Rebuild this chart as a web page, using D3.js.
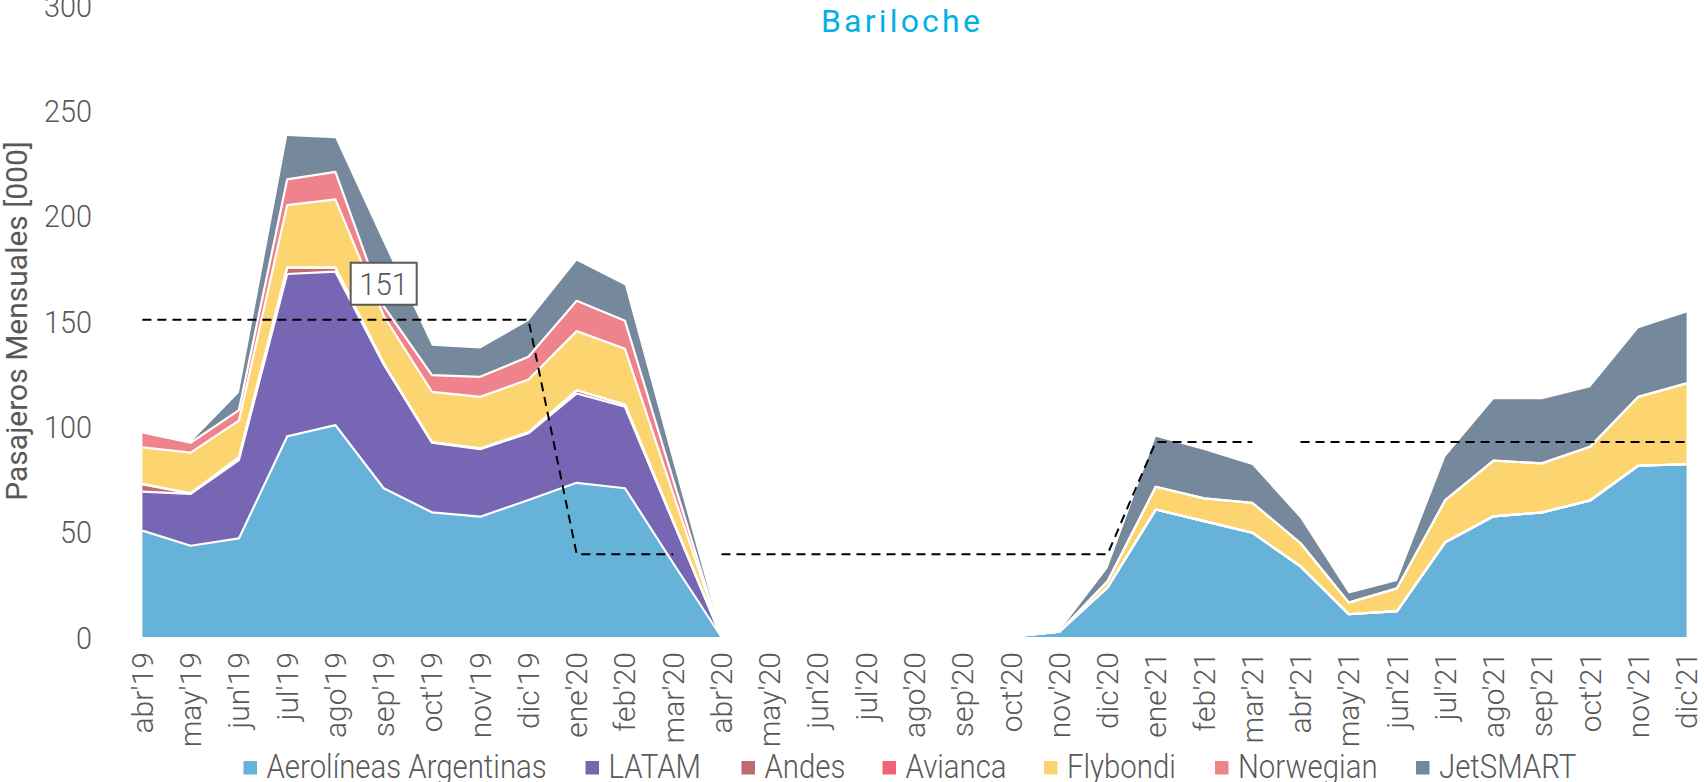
<!DOCTYPE html>
<html>
<head>
<meta charset="utf-8">
<script src="https://cdn.jsdelivr.net/npm/d3@7"></script>
<style>
  html, body { margin: 0; padding: 0; background: #fff; }
  svg { display: block; font-family: Roboto, "Noto Sans", sans-serif; }
</style>
</head>
<body>
<svg id="chart" width="1704" height="782"></svg>
<script>
const months = ["abr'19","may'19","jun'19","jul'19","ago'19","sep'19","oct'19","nov'19","dic'19","ene'20","feb'20","mar'20",
  "abr'20","may'20","jun'20","jul'20","ago'20","sep'20","oct'20","nov'20","dic'20","ene'21","feb'21","mar'21",
  "abr'21","may'21","jun'21","jul'21","ago'21","sep'21","oct'21","nov'21","dic'21"];

const seriesNames = ["Aerolíneas Argentinas","LATAM","Andes","Avianca","Flybondi","Norwegian","JetSMART"];

const aerolineas = [50.5,43.3,46.8,95.2,100.6,70.6,59.2,57.1,65.0,73.2,70.6,35.0, 0,0,0,0,0,0, 0.2,2.5,23.5,60.5,55.0,49.5,33.5,10.8,12.3,45.0,57.3,59.1,64.8,81.3,82.0];
const latam      = [18.5,24.6,37.2,77.1,72.8,58.8,33.0,32.1,31.7,42.4,38.7,19.5, 0,0,0,0,0,0, 0,0,0,0,0,0,0,0,0,0,0,0,0,0,0];
const andes      = [3.6,0.3,1.3,3.0,1.9,0.5,0.3,0.3,0.5,1.5,1.0,0.5, 0,0,0,0,0,0, 0,0,0,0,0,0,0,0,0,0,0,0,0,0,0];
const avianca    = [0,0,0,0,0,0,0,0,0,0,0,0, 0,0,0,0,0,0, 0,0,0,0,0,0,0,0,0,0,0,0,0,0,0];
const flybondi   = [17.4,19.3,17.4,29.7,32.4,22.6,23.9,24.5,25.0,28.1,26.5,13.0, 0,0,0,0,0,0, 0,0,2.9,10.8,10.8,14.2,11.0,5.5,10.8,20.0,26.4,23.3,25.5,32.7,38.4];
const norwegian  = [7.1,4.7,5.0,12.2,13.1,4.6,7.9,9.5,10.8,14.4,13.3,6.5, 0,0,0,0,0,0, 0,0,0,0,0,0,0,0,0,0,0,0,0,0,0];
const jetsmart   = [0,0.3,8.3,20.6,15.9,30.0,14.0,13.5,17.0,19.0,16.9,8.5, 0,0,0,0,0,0, 0,0.2,6.2,23.8,23.0,17.9,11.8,4.4,3.5,20.6,29.1,30.4,28.2,32.5,33.6];

// dashed reference line: groups of consecutive months (start index + values)
const refStarts = [0, 12, 24];
const refValues = [
  [150.6,150.6,150.6,150.6,150.6,150.6,150.6,150.6,150.6,39.3,39.3,39.3],
  [39.3,39.3,39.3,39.3,39.3,39.3,39.3,39.3,39.3,92.6,92.6,92.6],
  [92.6,92.6,92.6,92.6,92.6,92.6,92.6,92.6,92.6]
];
const labelMonth = "sep'19";
const labelValue = 150.6;

const yTicks = [0,50,100,150,200,250,300];
const title = "Bariloche";
const yTitle = "Pasajeros Mensuales [000]";

const colors = ["#66b2d9","#7766b4","#c26a6e","#ef6475","#fdd570","#ef838b","#76889b"];
const legendX = [243.5, 585.5, 741.5, 882.5, 1044, 1215, 1416];

// ---------- build ----------
const svg = d3.select("#chart");
const x = d3.scalePoint().domain(months).range([142.4, 1686.6]);
const y = d3.scaleLinear().domain([0, 300]).range([637, 5]);

const allSeries = [aerolineas, latam, andes, avianca, flybondi, norwegian, jetsmart];
const table = months.map((m, i) => {
  const row = { month: m };
  seriesNames.forEach((s, k) => row[s] = allSeries[k][i]);
  return row;
});
const stacked = d3.stack().keys(seriesNames)(table);

const area = d3.area()
  .x(d => x(d.data.month))
  .y0(d => y(d[0]))
  .y1(d => y(d[1]));
const topLine = d3.line()
  .x(d => x(d.data.month))
  .y(d => y(d[1]));

const g = svg.append("g");
g.selectAll("path.area").data(stacked).join("path")
  .attr("class", "area")
  .attr("d", area)
  .attr("fill", (d, i) => colors[i]);

g.selectAll("path.edge").data(stacked.slice(0, 6)).join("path")
  .attr("class", "edge")
  .attr("d", topLine)
  .attr("fill", "none")
  .attr("stroke", "#fff")
  .attr("stroke-width", 2.2)
  .attr("stroke-linejoin", "round");

// dashed reference line
const refLine = d3.line().x(d => x(d.m)).y(d => y(d.v));
refValues.forEach((vals, gi) => {
  const pts = vals.map((v, j) => ({ m: months[refStarts[gi] + j], v }));
  svg.append("path")
    .attr("d", refLine(pts))
    .attr("fill", "none")
    .attr("stroke", "#000")
    .attr("stroke-width", 2)
    .attr("stroke-dasharray", "9,6");
});

// value label box
const lx = x(labelMonth), ly = y(labelValue) - 36;
const lg = svg.append("g").attr("transform", `translate(${lx},${ly})`);
lg.append("rect").attr("x", -33).attr("y", -21).attr("width", 66).attr("height", 42)
  .attr("fill", "#fff").attr("stroke", "#595959").attr("stroke-width", 2);
lg.append("text").text(d3.format(".0f")(labelValue))
  .attr("text-anchor", "middle").attr("dy", "0.36em")
  .attr("transform", "scale(0.92,1)")
  .attr("font-size", 32).attr("font-weight", 300).attr("fill", "#595959");

// y axis tick labels
svg.append("g").selectAll("text").data(yTicks).join("text")
  .attr("transform", d => `translate(92,${y(d)}) scale(0.9,1)`)
  .attr("dy", "0.36em")
  .attr("text-anchor", "end")
  .attr("font-size", 32).attr("font-weight", 300).attr("fill", "#595959")
  .text(d => d);

// y title
svg.append("text")
  .attr("transform", `translate(27,${(y(0)+y(300))/2}) rotate(-90)`)
  .attr("text-anchor", "middle")
  .attr("font-size", 30).attr("fill", "#595959")
  .text(yTitle);

// x tick labels
svg.append("g").selectAll("text").data(months).join("text")
  .attr("transform", d => `translate(${x(d)},652) rotate(-90)`)
  .attr("text-anchor", "end").attr("dy", "0.35em")
  .attr("font-size", 30).attr("font-weight", 300).attr("fill", "#595959")
  .text(d => d);

// title
svg.append("text")
  .attr("x", 902).attr("y", 32)
  .attr("text-anchor", "middle")
  .attr("font-size", 32).attr("letter-spacing", 3.2)
  .attr("fill", "#00b0e6")
  .text(title);

// legend
const leg = svg.append("g");
seriesNames.forEach((s, i) => {
  const cx = legendX[i];
  leg.append("rect").attr("x", cx).attr("y", 761).attr("width", 13.5).attr("height", 13.5).attr("fill", colors[i]);
  leg.append("text")
    .attr("transform", `translate(${cx + 23},778) scale(0.89,1)`)
    .attr("font-size", 33).attr("font-weight", 300).attr("fill", "#595959").text(s);
});
</script>
</body>
</html>
